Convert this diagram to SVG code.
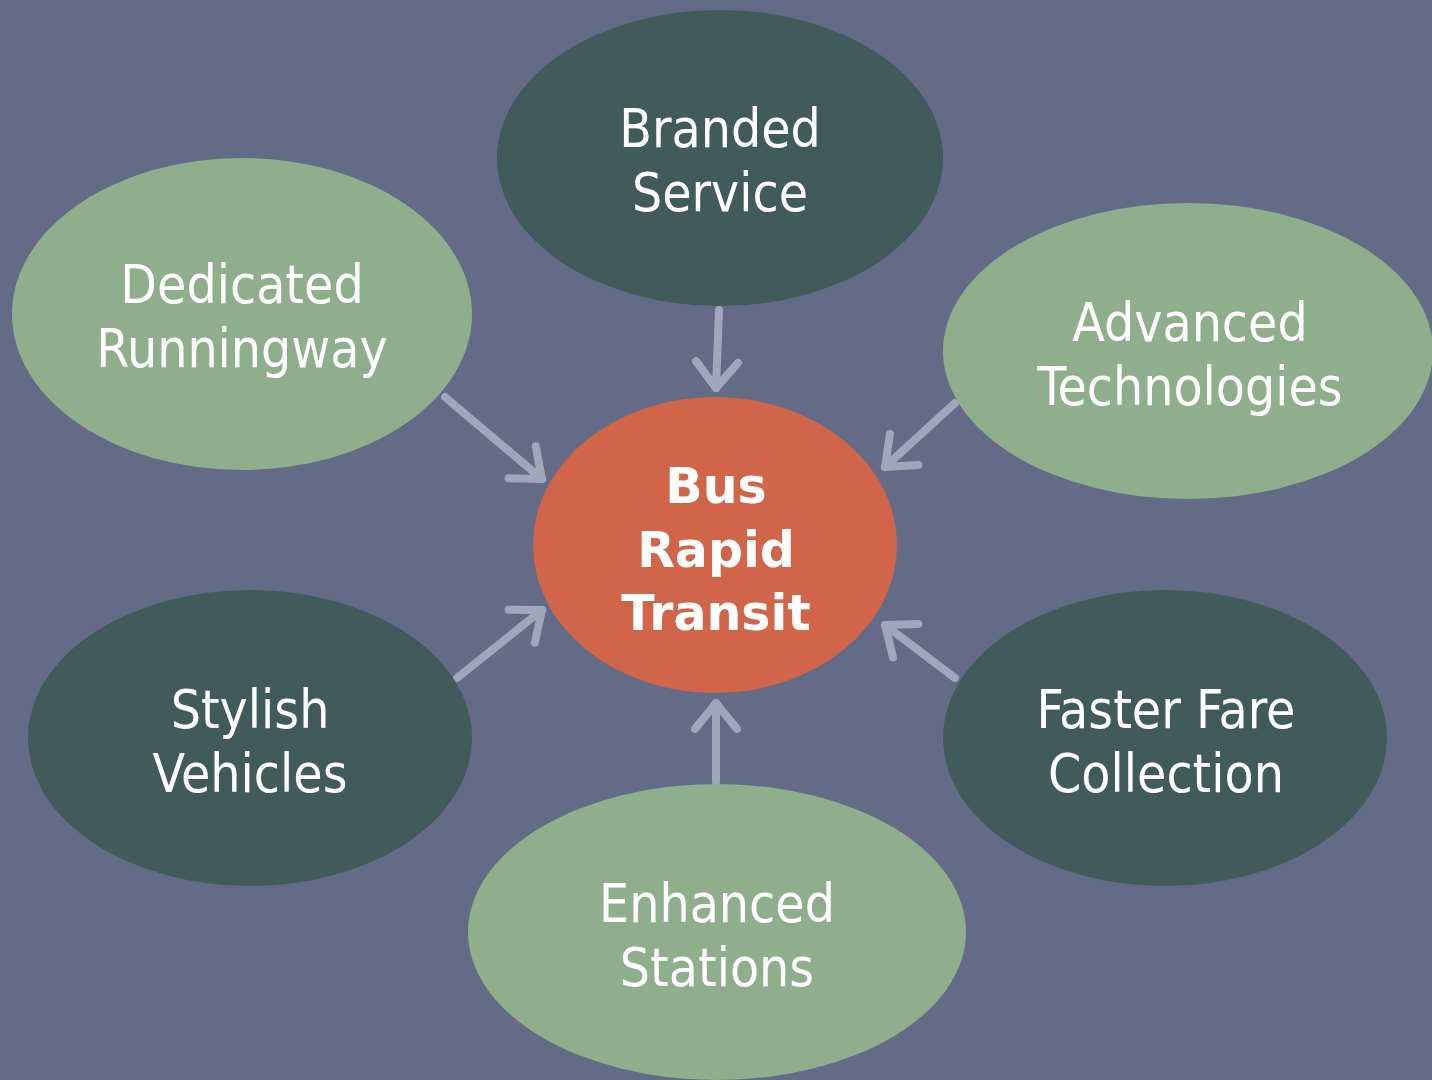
<svg xmlns="http://www.w3.org/2000/svg" width="1432" height="1080" viewBox="0 0 1432 1080">
<defs>
<style>
.dark{fill:#415a5a}
.light{fill:#8fae8b}
.center{fill:#d0654a}
.t{font-family:"DejaVu Sans Condensed","DejaVu Sans",sans-serif;font-size:53px;fill:#ffffff;text-anchor:middle}
.tb{font-family:"DejaVu Sans","Verdana",sans-serif;font-size:49px;font-weight:bold;fill:#ffffff;text-anchor:middle}
.c{stroke:#a2a6bc;stroke-width:8;stroke-linecap:round;fill:none;marker-end:url(#ah)}
</style>
<marker id="ah" markerUnits="userSpaceOnUse" viewBox="-40 -30 50 60" markerWidth="50" markerHeight="60" refX="0" refY="0" orient="auto">
<path d="M-26,-21 L0,0 L-26,21" fill="none" stroke="#a2a6bc" stroke-width="8" stroke-linecap="round" stroke-linejoin="round"/>
</marker>
</defs>
<rect width="1432" height="1080" fill="#646b87"/>
<g id="connectors">
<line class="c" x1="719" y1="310" x2="716" y2="388"/>
<line class="c" x1="445" y1="397" x2="542" y2="479"/>
<line class="c" x1="955" y1="403" x2="885" y2="467"/>
<line class="c" x1="457" y1="678" x2="542" y2="610"/>
<line class="c" x1="955" y1="678" x2="885" y2="625"/>
<line class="c" x1="716" y1="782" x2="716" y2="703"/>
</g>
<g id="branded">
<ellipse class="dark" cx="720" cy="158" rx="223" ry="148"/>
<text class="t" x="720" y="147">Branded</text>
<text class="t" x="720" y="211">Service</text>
</g>
<g id="dedicated">
<ellipse class="light" cx="242" cy="314" rx="230" ry="156"/>
<text class="t" x="242" y="303">Dedicated</text>
<text class="t" x="242" y="367">Runningway</text>
</g>
<g id="advanced">
<ellipse class="light" cx="1188" cy="351" rx="245" ry="148"/>
<text class="t" x="1190" y="341">Advanced</text>
<text class="t" x="1190" y="405">Technologies</text>
</g>
<g id="bus">
<ellipse class="center" cx="715" cy="545" rx="182" ry="148"/>
<text class="tb" x="716" y="503">Bus</text>
<text class="tb" x="716" y="567">Rapid</text>
<text class="tb" x="716" y="630">Transit</text>
</g>
<g id="stylish">
<ellipse class="dark" cx="250" cy="738" rx="222" ry="148"/>
<text class="t" x="250" y="728">Stylish</text>
<text class="t" x="250" y="792">Vehicles</text>
</g>
<g id="faster">
<ellipse class="dark" cx="1165" cy="738" rx="222" ry="148"/>
<text class="t" x="1166" y="728">Faster Fare</text>
<text class="t" x="1166" y="792">Collection</text>
</g>
<g id="enhanced">
<ellipse class="light" cx="717" cy="932" rx="249" ry="148"/>
<text class="t" x="717" y="922">Enhanced</text>
<text class="t" x="717" y="986">Stations</text>
</g>
</svg>
